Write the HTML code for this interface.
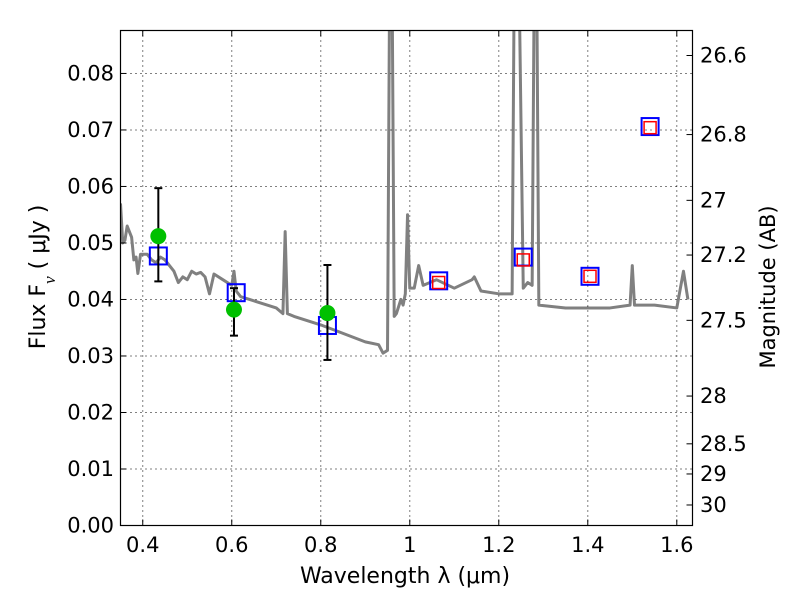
<!DOCTYPE html>
<html><head><meta charset="utf-8"><style>
body{margin:0;background:#fff;}
svg{font-family:"DejaVu Sans","Liberation Sans",sans-serif;}
</style></head><body>
<svg id="chart" width="800" height="600">
<rect x="0" y="0" width="800" height="600" fill="#fff"/>
<g id="grid"></g>
<g id="spec"></g>
<g id="pts"></g>
<rect x="120.5" y="30.5" width="572" height="495" fill="none" stroke="#000" stroke-width="1.2"/>
<g id="axes"></g>
<text x="405" y="583" font-size="22" text-anchor="middle">Wavelength  λ (μm)</text>
<text transform="translate(45,277) rotate(-90)" font-size="22" text-anchor="middle">Flux  F<tspan font-style="italic" font-family="Liberation Serif" baseline-shift="sub" font-size="17">ν</tspan>  ( μJy )</text>
<text transform="translate(775,287) rotate(-90)" font-size="21" text-anchor="middle">Magnitude (AB)</text>
</svg>
<script>
const specLam=[0.350,0.355,0.360,0.365,0.370,0.375,0.380,0.385,0.389,0.395,0.41,0.42,0.43,0.44,0.45,0.46,0.47,0.48,0.49,0.50,0.51,0.52,0.53,0.54,0.55,0.56,0.58,0.60,0.605,0.61,0.62,0.64,0.66,0.70,0.715,0.72,0.725,0.74,0.80,0.85,0.90,0.93,0.94,0.95,0.955,0.96,0.965,0.97,0.98,0.985,0.99,0.995,1.0,1.01,1.02,1.03,1.06,1.10,1.14,1.145,1.16,1.20,1.23,1.235,1.245,1.255,1.265,1.275,1.28,1.285,1.29,1.35,1.40,1.45,1.495,1.50,1.505,1.55,1.60,1.615,1.625];
const specFlux=[0.057,0.050,0.0505,0.053,0.052,0.051,0.047,0.0475,0.0446,0.048,0.048,0.047,0.0465,0.0475,0.047,0.046,0.045,0.043,0.044,0.0435,0.045,0.0445,0.0448,0.044,0.041,0.0445,0.0435,0.0425,0.045,0.0415,0.0405,0.040,0.0395,0.0385,0.0375,0.052,0.0375,0.037,0.0355,0.034,0.0325,0.032,0.0305,0.031,0.10,0.10,0.037,0.0375,0.040,0.039,0.041,0.055,0.042,0.042,0.046,0.0425,0.0435,0.042,0.0435,0.044,0.0415,0.041,0.041,0.10,0.10,0.042,0.043,0.0425,0.10,0.10,0.039,0.0385,0.0385,0.0385,0.039,0.046,0.039,0.039,0.0385,0.045,0.040];
const obsLam=[0.435,0.605,0.815];
const obsFlux=[0.0512,0.0382,0.0376];
const obsLo=[0.0432,0.0336,0.0293];
const obsHi=[0.0597,0.0420,0.0461];
const modLam=[0.435,0.61,0.815,1.065,1.255,1.405,1.54];
const modFlux=[0.0477,0.0412,0.0354,0.0433,0.0475,0.0441,0.0706];
const redLam=[1.065,1.255,1.405,1.54];
const redFlux=[0.0430,0.0470,0.0441,0.0704];
const xTicks=[0.4,0.6,0.8,1.0,1.2,1.4,1.6];
const xTickLabels=["0.4","0.6","0.8","1","1.2","1.4","1.6"];
const yTicks=[0,0.01,0.02,0.03,0.04,0.05,0.06,0.07,0.08];
const yTickLabels=["0.00","0.01","0.02","0.03","0.04","0.05","0.06","0.07","0.08"];
const magTicks=[26.6,26.8,27,27.2,27.5,28,28.5,29,30];
const magLabels=["26.6","26.8","27","27.2","27.5","28","28.5","29","30"];

const X0=120.5,X1=692.5,Y0=525.5,Y1=30.5,XMIN=0.35,XMAX=1.6353,YMIN=0,YMAX=0.0876;
const sx=v=>X0+(v-XMIN)/(XMAX-XMIN)*(X1-X0);
const sy=v=>Y0-(v-YMIN)/(YMAX-YMIN)*(Y0-Y1);
const NS="http://www.w3.org/2000/svg";
function mk(tag,attrs,parent){const e=document.createElementNS(NS,tag);for(const k in attrs)e.setAttribute(k,attrs[k]);parent.appendChild(e);return e;}
const grid=document.getElementById('grid'),axes=document.getElementById('axes'),spec=document.getElementById('spec'),pts=document.getElementById('pts');

xTicks.forEach((t,i)=>{const x=sx(t);
 const g=mk('line',{x1:x,x2:x,y1:Y1,y2:Y0,stroke:'#000','stroke-width':1,'stroke-dasharray':'1,4'},grid);
 
 
 mk('line',{x1:x,x2:x,y1:Y0,y2:Y0-6,stroke:'#000'},axes);
 mk('line',{x1:x,x2:x,y1:Y1,y2:Y1+6,stroke:'#000'},axes);
 const tx=mk('text',{x:x,y:552,'font-size':21,'text-anchor':'middle'},axes);tx.textContent=xTickLabels[i];
 
 
});
yTicks.forEach((t,i)=>{const y=sy(t);
 const g=mk('line',{x1:X0,x2:X1,y1:y,y2:y,stroke:'#000','stroke-width':1,'stroke-dasharray':'1,4'},grid);
 
 
 mk('line',{x1:X0,x2:X0+6,y1:y,y2:y,stroke:'#000'},axes);
 const tx=mk('text',{x:114,y:y+7,'font-size':21,'text-anchor':'end'},axes);tx.textContent=yTickLabels[i];
 
 
});
magTicks.forEach((m,i)=>{const f=Math.pow(10,(23.9-m)/2.5);const y=sy(f);
 mk('line',{x1:X1,x2:X1-6,y1:y,y2:y,stroke:'#000'},axes);
 const tx=mk('text',{x:700,y:y+7,'font-size':21,'text-anchor':'start'},axes);tx.textContent=magLabels[i];
 
 
});
const cp=mk('clipPath',{id:'clip'},spec);mk('rect',{x:X0,y:Y1,width:X1-X0,height:Y0-Y1},cp);
const path=mk('polyline',{points:specLam.map((l,i)=>sx(l)+','+sy(specFlux[i])).join(' '),fill:'none',stroke:'#808080','stroke-width':3,'clip-path':'url(#clip)','stroke-linejoin':'round'},spec);


modLam.forEach((l,i)=>{const s=mk('rect',{x:sx(l)-8.5,y:sy(modFlux[i])-8.5,width:17,height:17,fill:'none',stroke:'#0000ff','stroke-width':2},pts);
 
 });
redLam.forEach((l,i)=>{const s=mk('rect',{x:sx(l)-6,y:sy(redFlux[i])-6,width:12,height:12,fill:'none',stroke:'#ff0000','stroke-width':1.5},pts);
 
 });
obsLam.forEach((l,i)=>{const x=sx(l);
 mk('line',{x1:x,x2:x,y1:sy(obsLo[i]),y2:sy(obsHi[i]),stroke:'#000','stroke-width':2},pts);
 mk('line',{x1:x-4,x2:x+4,y1:sy(obsLo[i]),y2:sy(obsLo[i]),stroke:'#000','stroke-width':2},pts);
 mk('line',{x1:x-4,x2:x+4,y1:sy(obsHi[i]),y2:sy(obsHi[i]),stroke:'#000','stroke-width':2},pts);
 const c=mk('circle',{cx:x,cy:sy(obsFlux[i]),r:8,fill:'#00c000'},pts);
 
 });
</script>
</body></html>
